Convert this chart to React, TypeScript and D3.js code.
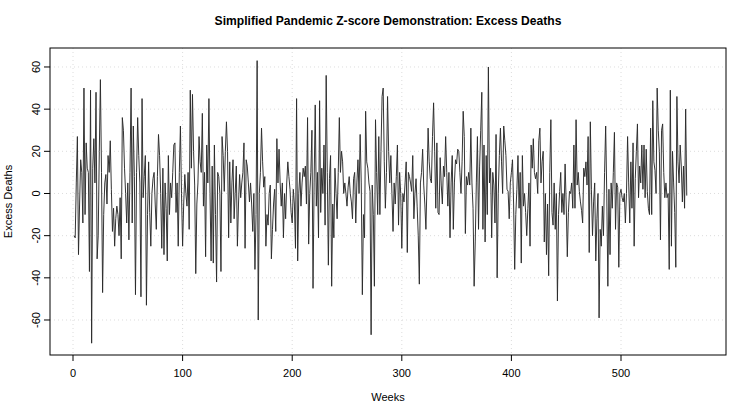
import React from "react";
import * as d3 from "d3";

// Weekly excess deaths, weeks 1..560
const excess0: number[] = [-20,-21,5,27,-29,-5,16,10,-14,50,-10,24,12,10,-37,49,-71,12,26,5,48,-31,-20,20,54,10,-47,-10,5,9,-5,18,10,25,2,-18,-7,-25,-12,-6,-10,-20,-2,-31,36];
const excess1: number[] = [30,12,0,-14,5,-22,10,50,-14,32,8,-48,10,36,18,5,-49,45,-2,8,18,-53,-10,15,-9,-25,0,7,10,-5,-17,8,28,18,0,-26,12,-29,5,-7,-32,18,-10,5,-2,10,23,24];
const excess2: number[] = [-9,5,-25,10,32,0,-25,-5,9,0,-6,10,-17,49,12,47,20,4,-38,-5,5,27,15,10,38,-6,10,-30,23,5,45,0,-32,13,-33,23,-10,-42,10,8,0,-37,27,18,1,20,34];
const excess3: number[] = [20,-21,15,-14,5,16,-12,0,13,-25,-5,9,-2,5,10,24,-26,16,13,5,-4,5,-5,-18,0,-36,-10,63,-60,0,10,31,15,3,8,-25,-10,-15,0,4,-31,-17,-5,2,-18,26,5,21];
const excess4: number[] = [5,-6,5,-21,0,-12,5,15,8,2,-9,-14,2,-5,-26,45,-32,0,10,-6,5,12,8,13,-5,36,-24,0,10,30,-45,5,42,-6,10,-21,44,-9,12,0,23,-15,56,10,-34,7,18];
const excess5: number[] = [-44,-5,-21,12,0,-12,10,36,10,20,15,0,5,0,-6,3,8,0,-4,-12,7,10,-14,5,16,0,28,5,-48,-10,-21,39,15,12,5,1,-67,4,-10,-44,35,10,-10,27,-10,20,46];
const excess6: number[] = [50,15,-7,10,46,20,5,18,0,-18,5,-5,8,23,-15,10,0,-26,0,-4,5,15,-28,10,8,5,1,18,-12,0,7,-6,-20,-43,5,10,21,4,-5,-17,5,31,15,7,5,27,43,20];
const excess7: number[] = [-7,24,-9,-10,17,4,-5,13,8,27,10,-6,10,-21,5,18,-17,5,16,14,21,20,10,0,15,39,27,-19,8,4,10,4,31,5,-7,-44,-23,5,27,-17,13,30,48,-17,23,-23,18];
const excess8: number[] = [-10,60,5,12,-21,10,4,-14,28,-40,0,18,31,15,0,32,25,18,2,1,-12,5,10,16,-5,-36,-10,2,18,-7,10,-33,18,-6,0,-9,-20,-7,5,-25,23,12,26,10,7,10,0,25];
const excess9: number[] = [31,5,15,20,-23,0,-29,-5,-39,10,35,-9,-15,5,-17,0,-51,-10,1,10,-9,0,-10,14,-5,-30,-9,1,0,5,-7,23,-7,35,4,10,1,-4,-8,-14,12,8,15,4,27,-28,34];
const excess10: number[] = [2,-20,-4,5,-32,-12,0,-59,-17,-25,-6,-20,10,32,0,-44,2,-29,5,-7,10,29,-17,5,3,-35,0,2,-2,-4,0,-14,0,27,5,-14,15,-7,24,-25,7,20,33,-2,13,5,23,2];
const excess11: number[] = [23,-2,21,1,-7,-10,31,-10,44,15,11,0,50,30,20,-22,30,33,10,-2,5,-2,0,-36,49,-25,20,5,-9,-35,46,15,5,23,13,-4,13,-7,40,-1];

const excessDeaths: number[] = [
  ...excess0, ...excess1, ...excess2, ...excess3, ...excess4, ...excess5,
  ...excess6, ...excess7, ...excess8, ...excess9, ...excess10, ...excess11,
];
const weeks: number[] = excessDeaths.map((_, i) => i + 1);

const xTicks: number[] = [0, 100, 200, 300, 400, 500];
const yTicks: number[] = [-60, -40, -20, 0, 20, 40, 60];

const titleText = "Simplified Pandemic Z-score Demonstration: Excess Deaths";
const xLabel = "Weeks";
const yLabel = "Excess Deaths";

const W = 750;
const H = 417;
const plot = { left: 50, right: 726, top: 48, bottom: 355 };
const FONT = "'Liberation Sans', Arial, Helvetica, sans-serif";

export default function App() {
  const x = d3.scaleLinear().domain([-20.99, 595.8]).range([plot.left, plot.right]);
  const y = d3.scaleLinear().domain([-76.6, 69.0]).range([plot.bottom, plot.top]);

  const line = d3
    .line<number>()
    .x((_, i) => x(weeks[i]))
    .y((d) => y(d));

  const path = line(excessDeaths) ?? "";

  return (
    <svg
      width={W}
      height={H}
      style={{ position: "absolute", left: 0, top: 0, background: "#fff" }}
      fontFamily={FONT}
    >
      <rect x={0} y={0} width={W} height={H} fill="#fff" />
      {/* grid */}
      {xTicks.map((t) => (
        <line
          key={`gx${t}`}
          x1={x(t)}
          x2={x(t)}
          y1={plot.top}
          y2={plot.bottom}
          stroke="#d3d3d3"
          strokeWidth={0.8}
          strokeDasharray="1 3"
        />
      ))}
      {yTicks.map((t) => (
        <line
          key={`gy${t}`}
          x1={plot.left}
          x2={plot.right}
          y1={y(t)}
          y2={y(t)}
          stroke="#d3d3d3"
          strokeWidth={0.8}
          strokeDasharray="1 3"
        />
      ))}

      {/* series */}
      <path d={path} fill="none" stroke="#2a2a2a" strokeWidth={0.95} strokeLinejoin="round" />

      {/* frame */}
      <rect
        x={plot.left}
        y={plot.top}
        width={plot.right - plot.left}
        height={plot.bottom - plot.top}
        fill="none"
        stroke="#000"
        strokeWidth={1}
      />

      {/* x axis */}
      {xTicks.map((t) => (
        <g key={`xt${t}`}>
          <line x1={x(t)} x2={x(t)} y1={plot.bottom} y2={plot.bottom + 6} stroke="#000" />
          <text x={x(t)} y={plot.bottom + 22} textAnchor="middle" fontSize={11}>
            {t}
          </text>
        </g>
      ))}

      {/* y axis */}
      {yTicks.map((t) => (
        <g key={`yt${t}`}>
          <line x1={plot.left - 6} x2={plot.left} y1={y(t)} y2={y(t)} stroke="#000" />
          <text
            transform={`translate(${plot.left - 10},${y(t)}) rotate(-90)`}
            textAnchor="middle"
            fontSize={11}
          >
            {t}
          </text>
        </g>
      ))}

      {/* labels */}
      <text x={(plot.left + plot.right) / 2} y={25} textAnchor="middle" fontSize={12.1} fontWeight="bold">
        {titleText}
      </text>
      <text x={(plot.left + plot.right) / 2} y={401} textAnchor="middle" fontSize={11}>
        {xLabel}
      </text>
      <text
        transform={`translate(12,${(plot.top + plot.bottom) / 2}) rotate(-90)`}
        textAnchor="middle"
        fontSize={11}
      >
        {yLabel}
      </text>
    </svg>
  );
}
